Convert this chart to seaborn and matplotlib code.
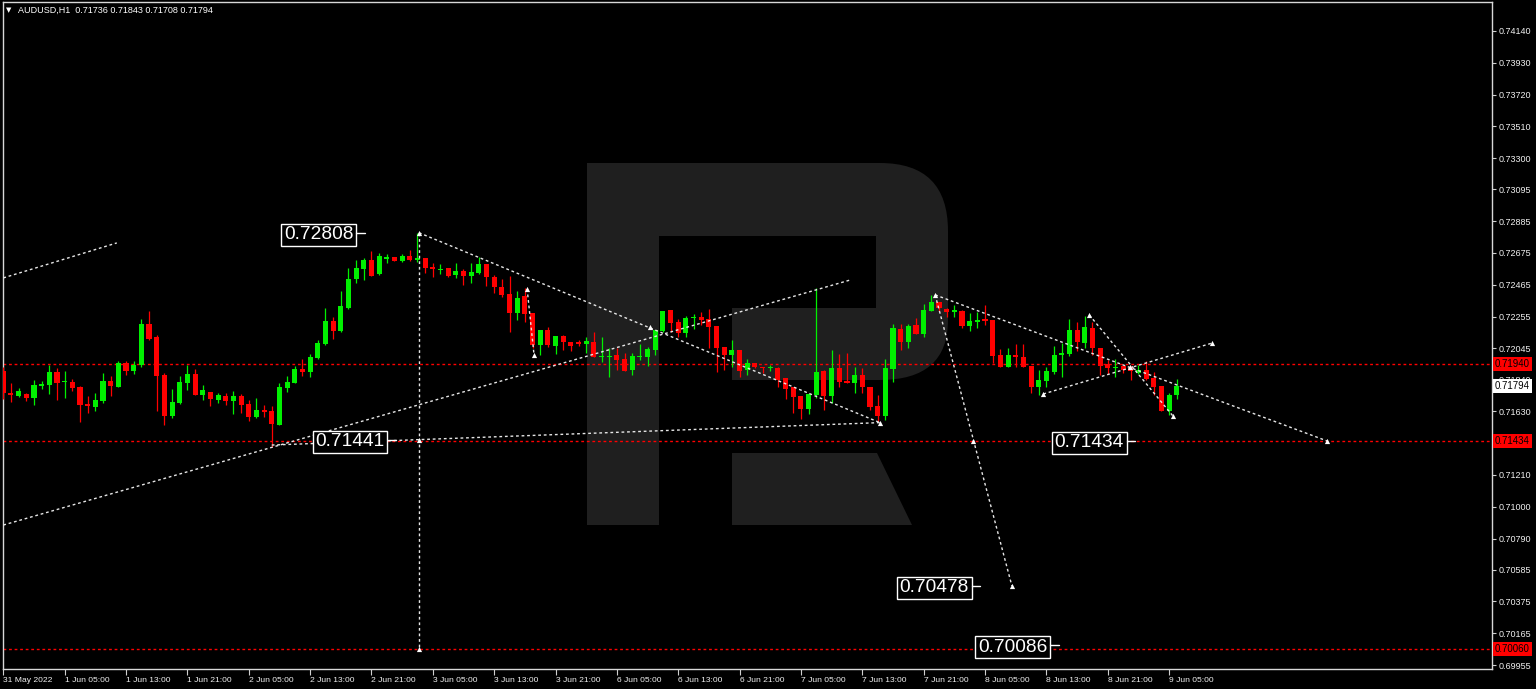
import numpy as np
import matplotlib
matplotlib.use("Agg")
import matplotlib.pyplot as plt
import seaborn as sns
from matplotlib import font_manager
from matplotlib.path import Path
from matplotlib.patches import PathPatch
from matplotlib.transforms import Affine2D, blended_transform_factory

# ---------------- data (AUDUSD H1, one value per hourly bar) ----------------
opens = [0.71898, 0.71749, 0.71733, 0.71745, 0.71716, 0.71797, 0.71804, 0.71890, 0.71820, 0.71824,
         0.71791, 0.71679, 0.71659, 0.71698, 0.71830, 0.71789, 0.71951, 0.71894, 0.71938, 0.72207,
         0.72121, 0.71870, 0.71597, 0.71683, 0.71817, 0.71877, 0.71740, 0.71760, 0.71707, 0.71733,
         0.71698, 0.71729, 0.71679, 0.71595, 0.71641, 0.71632, 0.71542, 0.71786, 0.71819, 0.71912,
         0.71892, 0.71980, 0.72073, 0.72228, 0.72160, 0.72314, 0.72504, 0.72568, 0.72629, 0.72535,
         0.72638, 0.72647, 0.72624, 0.72655, 0.72631, 0.72644, 0.72581, 0.72563, 0.72574, 0.72530,
         0.72556, 0.72525, 0.72541, 0.72601, 0.72519, 0.72453, 0.72403, 0.72281, 0.72391, 0.72277,
         0.72068, 0.72167, 0.72063, 0.72129, 0.72090, 0.72090, 0.72075, 0.72090, 0.71989, 0.71990,
         0.72002, 0.71976, 0.71903, 0.71989, 0.71991, 0.72035, 0.72162, 0.72299, 0.72222, 0.72149,
         0.72244, 0.72255, 0.72238, 0.72193, 0.72053, 0.72002, 0.72035, 0.71903, 0.71947, 0.71925,
         0.71916, 0.71918, 0.71848, 0.71789, 0.71733, 0.71644, 0.71738, 0.71898, 0.71731, 0.71914,
         0.71830, 0.71815, 0.71870, 0.71793, 0.71665, 0.71599, 0.71908, 0.72174, 0.72090, 0.72200,
         0.72141, 0.72294, 0.72354, 0.72306, 0.72284, 0.72294, 0.72195, 0.72222, 0.72238, 0.72233,
         0.72002, 0.71925, 0.72002, 0.71987, 0.71929, 0.71789, 0.71832, 0.71892, 0.72002, 0.72009,
         0.72167, 0.72083, 0.72182, 0.72050, 0.71943, 0.71916, 0.71929, 0.71914, 0.71885, 0.71903,
         0.71852, 0.71797, 0.71632, 0.71736]
highs = [0.71925, 0.71815, 0.71782, 0.71749, 0.71837, 0.71830, 0.71934, 0.71916, 0.71896, 0.71842,
         0.71797, 0.71733, 0.71753, 0.71881, 0.71861, 0.71962, 0.71962, 0.71962, 0.72238, 0.72292,
         0.72136, 0.71881, 0.71778, 0.71863, 0.71934, 0.71908, 0.71804, 0.71760, 0.71751, 0.71753,
         0.71766, 0.71747, 0.71705, 0.71716, 0.71670, 0.71665, 0.71817, 0.71863, 0.71929, 0.71976,
         0.72007, 0.72101, 0.72310, 0.72255, 0.72424, 0.72574, 0.72629, 0.72642, 0.72688, 0.72673,
         0.72667, 0.72649, 0.72669, 0.72695, 0.72808, 0.72644, 0.72607, 0.72601, 0.72578, 0.72607,
         0.72568, 0.72607, 0.72651, 0.72601, 0.72530, 0.72502, 0.72525, 0.72424, 0.72442, 0.72277,
         0.72167, 0.72189, 0.72129, 0.72134, 0.72090, 0.72101, 0.72123, 0.72156, 0.72123, 0.72046,
         0.72046, 0.72013, 0.72013, 0.72075, 0.72057, 0.72167, 0.72294, 0.72299, 0.72238, 0.72261,
         0.72271, 0.72284, 0.72306, 0.72193, 0.72053, 0.72101, 0.72035, 0.71974, 0.71947, 0.71925,
         0.71936, 0.71925, 0.71848, 0.71789, 0.71733, 0.71753, 0.72442, 0.71903, 0.72035, 0.72009,
         0.72017, 0.71921, 0.71914, 0.71793, 0.71738, 0.71976, 0.72207, 0.72207, 0.72207, 0.72244,
         0.72339, 0.72398, 0.72354, 0.72310, 0.72332, 0.72299, 0.72281, 0.72288, 0.72332, 0.72233,
         0.72040, 0.72046, 0.72075, 0.72075, 0.71929, 0.71903, 0.71921, 0.72063, 0.72083, 0.72238,
         0.72218, 0.72259, 0.72222, 0.72050, 0.71969, 0.71976, 0.71936, 0.71929, 0.71936, 0.71962,
         0.71892, 0.71797, 0.71753, 0.71843]
lows = [0.71710, 0.71694, 0.71723, 0.71698, 0.71672, 0.71780, 0.71747, 0.71705, 0.71716, 0.71766,
        0.71562, 0.71621, 0.71634, 0.71687, 0.71729, 0.71789, 0.71868, 0.71877, 0.71925, 0.72103,
        0.71632, 0.71540, 0.71588, 0.71677, 0.71771, 0.71738, 0.71703, 0.71663, 0.71683, 0.71674,
        0.71615, 0.71621, 0.71566, 0.71584, 0.71591, 0.71397, 0.71538, 0.71756, 0.71815, 0.71865,
        0.71859, 0.71974, 0.72066, 0.72108, 0.72156, 0.72306, 0.72477, 0.72497, 0.72525, 0.72530,
        0.72607, 0.72622, 0.72618, 0.72624, 0.72618, 0.72541, 0.72519, 0.72535, 0.72515, 0.72512,
        0.72464, 0.72479, 0.72535, 0.72457, 0.72413, 0.72387, 0.72156, 0.72233, 0.72222, 0.72046,
        0.72002, 0.72057, 0.72009, 0.72035, 0.72028, 0.72061, 0.72013, 0.71991, 0.71958, 0.71859,
        0.71903, 0.71898, 0.71870, 0.71969, 0.71929, 0.72002, 0.72152, 0.72156, 0.72123, 0.72123,
        0.72172, 0.72200, 0.72046, 0.71892, 0.71903, 0.71921, 0.71855, 0.71870, 0.71914, 0.71885,
        0.71898, 0.71793, 0.71710, 0.71621, 0.71578, 0.71613, 0.71716, 0.71639, 0.71687, 0.71789,
        0.71815, 0.71749, 0.71753, 0.71639, 0.71562, 0.71573, 0.71826, 0.72035, 0.72046, 0.72141,
        0.72123, 0.72294, 0.72294, 0.72255, 0.72255, 0.72182, 0.72162, 0.72178, 0.72200, 0.71947,
        0.71925, 0.71921, 0.71921, 0.71925, 0.71749, 0.71738, 0.71789, 0.71877, 0.71855, 0.71997,
        0.72030, 0.72046, 0.72002, 0.71870, 0.71877, 0.71855, 0.71885, 0.71837, 0.71877, 0.71837,
        0.71738, 0.71632, 0.71606, 0.71708]
closes = [0.71749, 0.71736, 0.71766, 0.71718, 0.71802, 0.71811, 0.71890, 0.71819, 0.71823, 0.71784,
          0.71672, 0.71667, 0.71705, 0.71830, 0.71797, 0.71949, 0.71896, 0.71938, 0.72207, 0.72108,
          0.71863, 0.71601, 0.71692, 0.71824, 0.71877, 0.71738, 0.71771, 0.71710, 0.71738, 0.71698,
          0.71729, 0.71672, 0.71595, 0.71641, 0.71628, 0.71547, 0.71789, 0.71826, 0.71912, 0.71892,
          0.71991, 0.72079, 0.72228, 0.72162, 0.72325, 0.72504, 0.72574, 0.72629, 0.72525, 0.72655,
          0.72644, 0.72624, 0.72657, 0.72629, 0.72640, 0.72574, 0.72568, 0.72570, 0.72525, 0.72556,
          0.72525, 0.72552, 0.72603, 0.72515, 0.72449, 0.72396, 0.72277, 0.72376, 0.72273, 0.72068,
          0.72167, 0.72066, 0.72129, 0.72086, 0.72061, 0.72075, 0.72094, 0.71991, 0.71992, 0.71993,
          0.71969, 0.71898, 0.71995, 0.71992, 0.72040, 0.72167, 0.72294, 0.72215, 0.72149, 0.72244,
          0.72255, 0.72233, 0.72189, 0.72046, 0.72002, 0.72035, 0.71898, 0.71947, 0.71925, 0.71918,
          0.71919, 0.71837, 0.71776, 0.71727, 0.71644, 0.71743, 0.71888, 0.71731, 0.71914, 0.71826,
          0.71815, 0.71870, 0.71789, 0.71661, 0.71599, 0.71914, 0.72182, 0.72090, 0.72195, 0.72141,
          0.72299, 0.72354, 0.72314, 0.72284, 0.72299, 0.72195, 0.72224, 0.72233, 0.72228, 0.71995,
          0.71925, 0.72002, 0.71987, 0.71925, 0.71793, 0.71837, 0.71898, 0.72002, 0.72017, 0.72167,
          0.72086, 0.72185, 0.72050, 0.71931, 0.71914, 0.71920, 0.71903, 0.71898, 0.71903, 0.71842,
          0.71793, 0.71632, 0.71738, 0.71794]

time_labels = ["31 May 2022", "1 Jun 05:00", "1 Jun 13:00", "1 Jun 21:00", "2 Jun 05:00",
               "2 Jun 13:00", "2 Jun 21:00", "3 Jun 05:00", "3 Jun 13:00", "3 Jun 21:00",
               "6 Jun 05:00", "6 Jun 13:00", "6 Jun 21:00", "7 Jun 05:00", "7 Jun 13:00",
               "7 Jun 21:00", "8 Jun 05:00", "8 Jun 13:00", "8 Jun 21:00", "9 Jun 05:00"]
bars_per_label = 8

price_ticks = [0.74140, 0.73930, 0.73720, 0.73510, 0.73300, 0.73095, 0.72885, 0.72675, 0.72465,
               0.72255, 0.72045, 0.71840, 0.71630, 0.71420, 0.71210, 0.71000, 0.70790, 0.70585,
               0.70375, 0.70165, 0.69955]
hidden_ticks = [0.71420]   # covered by the red 0.71434 tag on the axis

red_levels = [0.71940, 0.71434, 0.70060]
last_price = 0.71794
header = "AUDUSD,H1  0.71736 0.71843 0.71708 0.71794"

# analysis lines: anchor points (bar index, price)
line_a_x, line_a_p = [0.0, 14.8], [0.72510, 0.72741]
line_b_x, line_b_p = [0.0, 110.4], [0.70879, 0.72496]
line_c_x, line_c_p = [35.0, 114.3], [0.71407, 0.71555]
line_d_x, line_d_p = [54.2, 114.3], [0.72808, 0.71555]
line_e_x, line_e_p = [54.2, 54.2], [0.72808, 0.70060]
line_f_x, line_f_p = [68.3, 69.2], [0.72437, 0.72002]
line_g_x, line_g_p = [121.5, 172.6], [0.72398, 0.71434]
line_h_x, line_h_p = [121.5, 131.5], [0.72398, 0.70478]
line_i_x, line_i_p = [141.6, 152.5], [0.72265, 0.71599]
line_j_x, line_j_p = [135.6, 157.6], [0.71744, 0.72080]

marker_x = [54.2, 54.2, 54.2, 68.3, 69.2, 84.3, 114.3, 121.5, 126.4, 131.5, 135.6, 141.6,
            146.9, 152.5, 157.6, 172.6]
marker_p = [0.72808, 0.71441, 0.70060, 0.72437, 0.72002, 0.72186, 0.71555, 0.72398, 0.71434,
            0.70478, 0.71744, 0.72265, 0.71923, 0.71599, 0.72080, 0.71434]

label_text = ["0.72808", "0.71441", "0.70478", "0.71434", "0.70086"]
label_x = [41.1, 45.2, 121.4, 141.6, 131.6]
label_p = [0.72808, 0.71441, 0.70478, 0.71434, 0.70086]

# ---------------- style ----------------
W, H = 1536, 689
sns.set_style("dark", rc={"axes.facecolor": "black", "figure.facecolor": "black"})
names = {f.name for f in font_manager.fontManager.ttflist}
if "Liberation Sans Narrow" in names:
    NF, k = "Liberation Sans Narrow", 1.22
elif "Liberation Sans" in names:
    NF, k = "Liberation Sans", 1.0
else:
    NF, k = "DejaVu Sans", 0.87
plt.rcParams["font.family"] = [NF, "DejaVu Sans"]

GREEN, RED, WHITE = "#00f000", "#ff0000", "#f0f0f0"

fig = plt.figure(figsize=(W / 100, H / 100), dpi=100)
ax = fig.add_axes([2.5 / W, (H - 669) / H, (1492 - 2.5) / W, (669 - 2) / H])
ax.set_facecolor("black")

# watermark logo (figure pixel coords)
tr = Affine2D().scale(1 / W, -1 / H).translate(0, 1) + fig.transFigure
M, L, Q, C = Path.MOVETO, Path.LINETO, Path.CURVE3, Path.CLOSEPOLY
verts = [(587, 163), (880, 163), (948, 163), (948, 231), (948, 320), (948, 380), (880, 380),
         (732, 380), (732, 308), (876, 308), (876, 236), (659, 236), (659, 525), (587, 525), (587, 163),
         (732, 453), (877, 453), (912, 525), (732, 525), (732, 453)]
codes = [M, L, Q, Q, L, Q, Q, L, L, L, L, L, L, L, C, M, L, L, L, C]
ax.add_patch(PathPatch(Path(verts, codes), transform=tr, facecolor="#1f1f1f",
                       edgecolor="none", zorder=0.5))

# candles
o, h, l, c = map(np.array, (opens, highs, lows, closes))
xi = np.arange(len(o))
cols = np.where(c >= o, GREEN, RED)
ax.vlines(xi, l, h, colors=cols, lw=0.9, zorder=3)
body_bot = np.minimum(o, c)
body_h = np.maximum(np.abs(c - o), 0.00007)
ax.bar(xi, body_h, bottom=body_bot, width=0.66, color=cols, lw=0, zorder=4)

# red horizontal levels
for lv in red_levels:
    ax.axhline(lv, color=RED, lw=1, ls=(0, (2, 2)), zorder=2)

# analysis lines
for lx, lp in [(line_a_x, line_a_p), (line_b_x, line_b_p), (line_c_x, line_c_p),
               (line_d_x, line_d_p), (line_e_x, line_e_p), (line_f_x, line_f_p),
               (line_g_x, line_g_p), (line_h_x, line_h_p), (line_i_x, line_i_p),
               (line_j_x, line_j_p)]:
    sns.lineplot(x=lx, y=lp, ax=ax, color="#e6e6e6", lw=1, linestyle=(0, (2, 2)),
                 estimator=None, sort=False, zorder=5)
sns.scatterplot(x=marker_x, y=marker_p, ax=ax, color="white", marker="^", s=14,
                linewidth=0, zorder=6)

# price labels with boxes
for s, lx, lp in zip(label_text, label_x, label_p):
    ax.text(lx, lp, s, ha="center", va="center_baseline", color="white", fontsize=13.8 * k,
            zorder=8, bbox=dict(boxstyle="square,pad=0.14", fc="black", ec="white", lw=1))
    ax.plot([lx + 4.9, lx + 6.0], [lp, lp], color="white", lw=1, zorder=8)

# axes ranges
ax.set_xlim(-0.104, 194.1)
ax.set_ylim(0.69929, 0.74331)

# x ticks
xt = np.arange(len(time_labels)) * bars_per_label
ax.set_xticks(xt)
ax.set_xticklabels(time_labels, fontsize=6.1 * k, color=WHITE)
for t in ax.get_xticklabels():
    t.set_ha("left")
ax.tick_params(axis="x", direction="out", length=4, width=0.8, color="#d0d0d0", pad=1.5,
               bottom=True)

# y ticks on right
ax.yaxis.tick_right()
ax.set_yticks(price_ticks)
ax.set_yticklabels(["" if v in hidden_ticks else f"{v:.5f}" for v in price_ticks],
                   fontsize=6.5 * k, color=WHITE)
ax.tick_params(axis="y", direction="out", length=3, width=0.8, color="#d0d0d0", pad=2,
               right=True, left=False)
ax.grid(False)
for sp in ax.spines.values():
    sp.set_color("#d8d8d8")
    sp.set_linewidth(1)
    sp.set_visible(True)

# right-axis value tags
btr = blended_transform_factory(ax.transAxes, ax.transData)
for lv in red_levels:
    ax.text(1.0 + 3 / 1489.5, lv, f"{lv:.5f}", transform=btr, ha="left", va="center",
            fontsize=6.9 * k, color="black", zorder=10, clip_on=False,
            bbox=dict(boxstyle="square,pad=0.2", fc=RED, ec="none"))
ax.text(1.0 + 3 / 1489.5, last_price, f"{last_price:.5f}", transform=btr, ha="left",
        va="center", fontsize=6.9 * k, color="black", zorder=10, clip_on=False,
        bbox=dict(boxstyle="square,pad=0.2", fc="white", ec="none"))

# header
fig.text(6 / W, 1 - 10 / H, "\u25bc", fontsize=5, color="white", va="center",
         family=["DejaVu Sans"])
fig.text(18 / W, 1 - 10 / H, header, fontsize=6.5 * k, color="white", va="center")

fig.savefig("out.png", dpi=100, facecolor="black")
